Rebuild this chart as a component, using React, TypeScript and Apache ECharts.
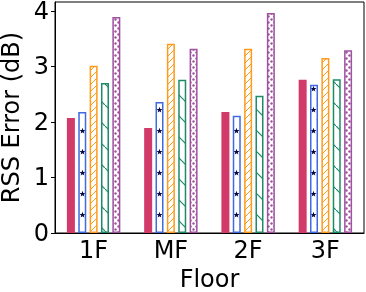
import React, { useEffect, useRef } from "react";
import * as echarts from "echarts";

const categories = ["1F", "MF", "2F", "3F"];
const seriesA = [2.07, 1.89, 2.18, 2.76];
const seriesB = [2.18, 2.36, 2.11, 2.67];
const seriesC = [3.01, 3.41, 3.32, 3.15];
const seriesD = [2.7, 2.76, 2.47, 2.77];
const seriesE = [3.89, 3.32, 3.96, 3.29];
const yTicks = [0, 1, 2, 3, 4];

const RED = "#d23a6a";
const BLUE = "#4169e1";
const ORANGE = "#ff9a1a";
const GREEN = "#1e8a68";
const PURPLE = "#a052a0";

function makeCanvas(w: number, h: number, draw: (ctx: CanvasRenderingContext2D) => void) {
  const c = document.createElement("canvas");
  c.width = w;
  c.height = h;
  const ctx = c.getContext("2d")!;
  ctx.fillStyle = "#ffffff";
  ctx.fillRect(0, 0, w, h);
  draw(ctx);
  return { image: c.toDataURL(), repeat: "repeat", imageWidth: w, imageHeight: h } as any;
}

function star(ctx: CanvasRenderingContext2D, cx: number, cy: number, r: number, color: string) {
  ctx.beginPath();
  for (let i = 0; i < 10; i++) {
    const rr = i % 2 === 0 ? r : r * 0.42;
    const a = -Math.PI / 2 + (i * Math.PI) / 5;
    const x = cx + rr * Math.cos(a);
    const y = cy + rr * Math.sin(a);
    if (i === 0) ctx.moveTo(x, y);
    else ctx.lineTo(x, y);
  }
  ctx.closePath();
  ctx.fillStyle = color;
  ctx.fill();
}

export default function App() {
  const ref = useRef<HTMLDivElement>(null);
  useEffect(() => {
    if (!ref.current) return;
    const chart = echarts.init(ref.current, null, { renderer: "svg" });

    const slashPat = makeCanvas(7, 7, (ctx) => {
      ctx.strokeStyle = ORANGE;
      ctx.lineWidth = 1;
      ctx.beginPath();
      ctx.moveTo(-1, 8); ctx.lineTo(8, -1);
      ctx.moveTo(-1, 1); ctx.lineTo(1, -1);
      ctx.moveTo(6, 8); ctx.lineTo(8, 6);
      ctx.stroke();
    });
    const backPat = makeCanvas(21, 21, (ctx) => {
      ctx.strokeStyle = GREEN;
      ctx.lineWidth = 1.2;
      ctx.beginPath();
      ctx.moveTo(-1, -1); ctx.lineTo(22, 22);
      ctx.stroke();
    });
    const dotPat = makeCanvas(6, 6, (ctx) => {
      ctx.fillStyle = PURPLE;
      ctx.beginPath(); ctx.arc(1.5, 1.5, 1.2, 0, Math.PI * 2); ctx.fill();
      ctx.beginPath(); ctx.arc(4.5, 4.5, 1.2, 0, Math.PI * 2); ctx.fill();
    });
    const starPat = makeCanvas(11, 21, (ctx) => {
      star(ctx, 5.5, 5, 3.2, "#0a0a40");
      star(ctx, 0, 15.5, 3.0, BLUE);
      star(ctx, 11, 15.5, 3.0, BLUE);
    });

    const font = "DejaVu Sans";
    const mk = (data: number[], fill: any, border: string, bw: number) => ({
      type: "bar",
      data,
      barWidth: 8,
      barGap: "42%",
      itemStyle: { color: fill, borderColor: border, borderWidth: bw },
    });

    chart.setOption({
      animation: false,
      grid: {
        left: 55, right: 2, top: 2, bottom: 59,
        outerBoundsMode: "none",
        containLabel: false,
        show: true, borderColor: "#000", borderWidth: 1, backgroundColor: "transparent",
      },
      xAxis: {
        type: "category",
        data: categories,
        name: "Floor",
        nameLocation: "middle",
        nameGap: 30,
        nameTextStyle: { fontFamily: font, fontSize: 24, color: "#000" },
        axisLine: { lineStyle: { color: "#000", width: 1 } },
        axisTick: { alignWithLabel: true, length: 4, lineStyle: { color: "#000" } },
        axisLabel: { fontFamily: font, fontSize: 24, color: "#000", margin: 5 },
      },
      yAxis: {
        type: "value",
        min: 0,
        max: 4.16,
        interval: 1,
        name: "RSS Error (dB)",
        nameLocation: "middle",
        nameGap: 31,
        nameTextStyle: { fontFamily: font, fontSize: 24, color: "#000" },
        axisLine: { show: true, lineStyle: { color: "#000", width: 1 } },
        axisTick: { show: true, length: 4, lineStyle: { color: "#000" }, customValues: yTicks },
        axisLabel: { fontFamily: font, fontSize: 24, color: "#000", margin: 6, customValues: yTicks },
        splitLine: { show: false },
      },
      series: [
        mk(seriesA, RED, RED, 0),
        mk(seriesB, starPat, BLUE, 1.5),
        mk(seriesC, slashPat, ORANGE, 1.5),
        mk(seriesD, backPat, GREEN, 1.5),
        mk(seriesE, dotPat, PURPLE, 1.5),
      ],
    });
    return () => chart.dispose();
  }, []);
  return <div ref={ref} style={{ position: "fixed", left: 0, top: 0, width: 366, height: 292 }} />;
}
